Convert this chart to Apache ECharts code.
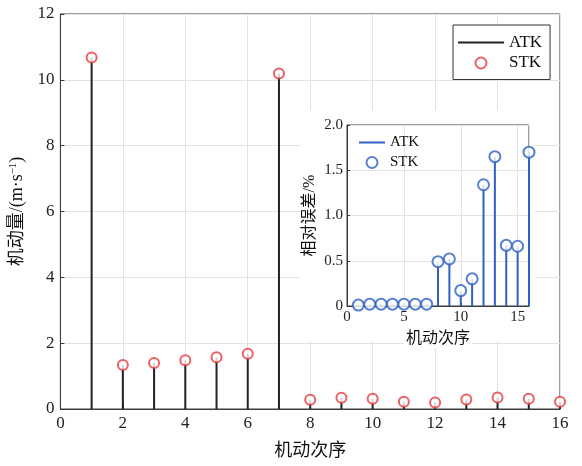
<!DOCTYPE html>
<html><head><meta charset="utf-8">
<script src="https://cdn.jsdelivr.net/npm/echarts@6/dist/echarts.min.js"></script>
<style>html,body{margin:0;padding:0;background:#fff}#c{width:582px;height:466px}</style>
</head><body><div id="c"></div>
<script>
// ---- data ----
const maneuverOrder = [1,2,3,4,5,6,7,8,9,10,11,12,13,14,15,16];
const atkDelta = [10.68,1.34,1.40,1.48,1.57,1.68,10.19,0.28,0.34,0.31,0.22,0.20,0.29,0.35,0.31,0.22];
const stkDelta = [10.68,1.34,1.40,1.48,1.57,1.68,10.19,0.28,0.34,0.31,0.22,0.20,0.29,0.35,0.31,0.22];
const atkRelErr = [0.01,0.02,0.02,0.02,0.02,0.02,0.02,0.49,0.52,0.17,0.30,1.34,1.65,0.67,0.66,1.70];
const stkRelErr = [0.01,0.02,0.02,0.02,0.02,0.02,0.02,0.49,0.52,0.17,0.30,1.34,1.65,0.67,0.66,1.70];
const mainXLabel = '机动次序';
const mainYLabel = '{a|机动量/(m·s}{b|−1}{a|)}';
const insetXLabel = '机动次序';
const insetYLabel = '相对误差/%';

const pairs = (xs, ys) => xs.map((x, i) => [x, ys[i]]);
const SERIF = '"Liberation Serif", "Noto Sans CJK SC", serif';
const AX = '#3a3a3a';
const GRID = '#e3e3e3';
const RED = '#e8383d';
const BLUE = '#3160c4';
const LINE_ICON = 'path://M0 0H46V2H0Z';

const chart = echarts.init(document.getElementById('c'), null, {renderer: 'canvas'});
chart.setOption({
  backgroundColor: '#fff',
  animation: false,
  textStyle: {fontFamily: SERIF},
  graphic: {elements: [{
    type: 'rect', z: 1, silent: true,
    shape: {x: 300, y: 110, width: 235, height: 231},
    style: {fill: '#fff'}
  }]},
  grid: [
    {left: 59, top: 14, right: 22, bottom: 57, show: true, borderColor: AX, borderWidth: 1, backgroundColor: '#fff', z: 0},
    {left: 347, top: 125, right: 53, bottom: 160, show: true, borderColor: AX, borderWidth: 1, backgroundColor: '#fff', z: 2}
  ],
  xAxis: [
    {type: 'value', gridIndex: 0, min: 0, max: 16, interval: 2, z: 0,
     name: mainXLabel, nameLocation: 'middle', nameGap: 33,
     nameTextStyle: {fontSize: 18, color: '#111', fontFamily: SERIF},
     axisLine: {lineStyle: {color: AX}}, axisTick: {inside: true, length: 4, lineStyle: {color: AX}},
     axisLabel: {fontSize: 17, color: '#222', margin: 6, fontFamily: SERIF},
     splitLine: {show: true, lineStyle: {color: GRID}}},
    {type: 'value', gridIndex: 1, min: 0, max: 16, interval: 5, z: 3,
     name: insetXLabel, nameLocation: 'middle', nameGap: 25,
     nameTextStyle: {fontSize: 16, color: '#111', fontFamily: SERIF, backgroundColor: '#fff', padding: [0, 2, 1, 2]},
     axisLine: {lineStyle: {color: AX}}, axisTick: {inside: true, length: 3, lineStyle: {color: AX}},
     axisLabel: {fontSize: 15, color: '#222', margin: 4, showMaxLabel: false, fontFamily: SERIF},
     splitLine: {show: true, lineStyle: {color: GRID}}}
  ],
  yAxis: [
    {type: 'value', gridIndex: 0, min: 0, max: 12, interval: 2, z: 0,
     name: mainYLabel, nameLocation: 'middle', nameGap: 30, nameRotate: 90,
     nameTextStyle: {fontSize: 18, color: '#111', fontFamily: SERIF,
       rich: {a: {fontSize: 18, fontFamily: SERIF, color: '#111'},
              b: {fontSize: 11, fontFamily: SERIF, color: '#111', verticalAlign: 'top', padding: [0, 0, 8, 0]}}},
     axisLine: {lineStyle: {color: AX}}, axisTick: {inside: true, length: 4, lineStyle: {color: AX}},
     axisLabel: {fontSize: 17, color: '#222', margin: 6, fontFamily: SERIF},
     splitLine: {show: true, lineStyle: {color: GRID}}},
    {type: 'value', gridIndex: 1, min: 0, max: 2, interval: 0.5, z: 3,
     name: insetYLabel, nameLocation: 'middle', nameGap: 29, nameRotate: 90,
     nameTextStyle: {fontSize: 16, color: '#111', fontFamily: SERIF},
     axisLine: {lineStyle: {color: AX}}, axisTick: {inside: true, length: 3, lineStyle: {color: AX}},
     axisLabel: {fontSize: 15, color: '#222', margin: 4, fontFamily: SERIF,
       formatter: v => v === 0 ? '0' : v.toFixed(1)},
     splitLine: {show: true, lineStyle: {color: GRID}}}
  ],
  legend: [
    {orient: 'vertical', left: 453, top: 25, padding: [9, 8, 8, 5], itemGap: 3.5,
     itemWidth: 46, itemHeight: 11, symbolKeepAspect: true,
     backgroundColor: '#fff', borderColor: '#333', borderWidth: 1, borderRadius: 0,
     textStyle: {fontSize: 17, color: '#111', fontFamily: SERIF},
     data: [
       {name: 'ATK', icon: LINE_ICON, itemStyle: {color: '#222'}},
       {name: 'STK', icon: 'emptyCircle', itemStyle: {color: RED, borderColor: RED, borderWidth: 1.2}}
     ], selectedMode: false, z: 6},
    {orient: 'vertical', left: 359, top: 135, padding: 0, itemGap: 5,
     itemWidth: 26, itemHeight: 11, symbolKeepAspect: true,
     textStyle: {fontSize: 15, color: '#111', fontFamily: SERIF},
     formatter: n => n.replace('_inset', ''),
     data: [
       {name: 'ATK_inset', icon: 'path://M0 0H26V2H0Z', itemStyle: {color: BLUE}},
       {name: 'STK_inset', icon: 'emptyCircle', itemStyle: {color: BLUE, borderColor: BLUE, borderWidth: 1.2}}
     ], selectedMode: false, z: 8}
  ],
  series: [
    {name: 'ATK', type: 'bar', xAxisIndex: 0, yAxisIndex: 0, barWidth: 2, z: 2,
     itemStyle: {color: '#222'}, data: pairs(maneuverOrder, atkDelta)},
    {name: 'STK', type: 'scatter', xAxisIndex: 0, yAxisIndex: 0, symbol: 'emptyCircle', symbolSize: 10, z: 3,
     itemStyle: {color: RED, borderColor: RED, borderWidth: 1.2}, data: pairs(maneuverOrder, stkDelta)},
    {name: 'ATK_inset', type: 'bar', xAxisIndex: 1, yAxisIndex: 1, barWidth: 2, z: 5,
     itemStyle: {color: BLUE}, data: pairs(maneuverOrder, atkRelErr)},
    {name: 'STK_inset', type: 'scatter', xAxisIndex: 1, yAxisIndex: 1, symbol: 'emptyCircle', symbolSize: 11, z: 6,
     itemStyle: {color: BLUE, borderColor: BLUE, borderWidth: 1.2}, data: pairs(maneuverOrder, stkRelErr)}
  ]
});
</script></body></html>
